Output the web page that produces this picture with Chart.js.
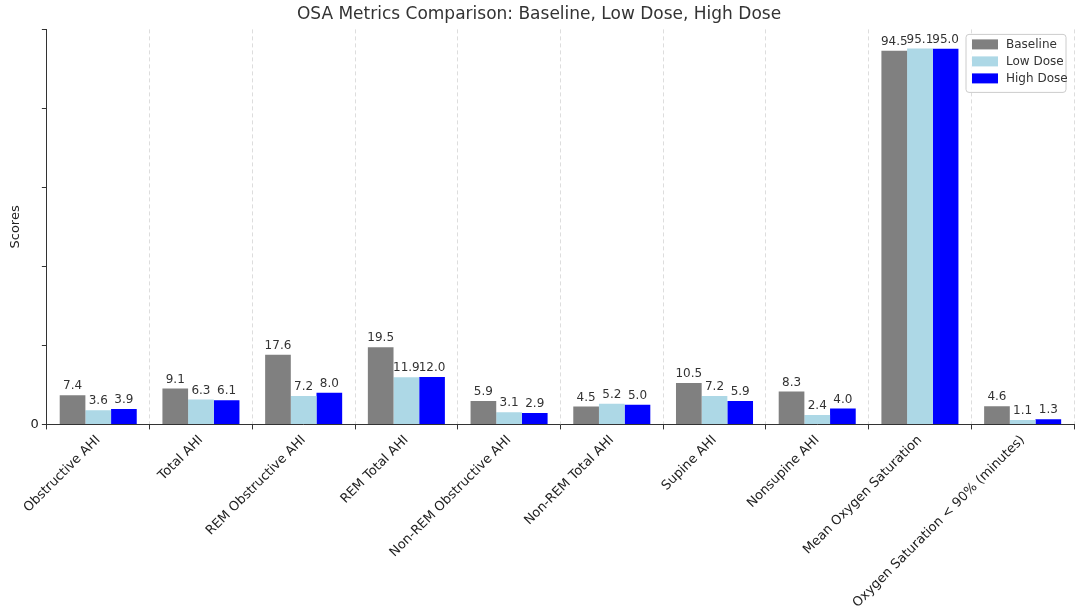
<!DOCTYPE html>
<html>
<head>
<meta charset="utf-8">
<script src="https://cdn.jsdelivr.net/npm/chart.js@4/dist/chart.umd.min.js"></script>
<style>
  body { margin: 0; background: #fff; }
  #wrap { width: 1080px; height: 614px; }
</style>
</head>
<body>
<div id="wrap"><canvas id="c"></canvas></div>
<script>
const categories = ['Obstructive AHI', 'Total AHI', 'REM Obstructive AHI', 'REM Total AHI',
  'Non-REM Obstructive AHI', 'Non-REM Total AHI', 'Supine AHI', 'Nonsupine AHI',
  'Mean Oxygen Saturation', 'Oxygen Saturation < 90% (minutes)'];
const baseline = [7.4, 9.1, 17.6, 19.5, 5.9, 4.5, 10.5, 8.3, 94.5, 4.6];
const lowDose = [3.6, 6.3, 7.2, 11.9, 3.1, 5.2, 7.2, 2.4, 95.1, 1.1];
const highDose = [3.9, 6.1, 8.0, 12.0, 2.9, 5.0, 5.9, 4.0, 95.0, 1.3];
const colors = ['#808080', '#add8e6', '#0000ff'];

// value labels above each bar
const labelPlugin = {
  id: 'labels',
  afterDatasetsDraw(chart) {
    const ctx = chart.ctx;
    ctx.save();
    ctx.font = '12px "DejaVu Sans"';
    ctx.fillStyle = '#333';
    ctx.textAlign = 'center';
    ctx.textBaseline = 'bottom';
    chart.data.datasets.forEach((ds, i) => {
      chart.getDatasetMeta(i).data.forEach((bar, j) => {
        ctx.fillText(ds.data[j].toFixed(1), bar.x, bar.y - 3);
      });
    });
    ctx.restore();
  }
};

// legend box in the top right of the plot
const legendPlugin = {
  id: 'boxLegend',
  afterDraw(chart) {
    const ctx = chart.ctx;
    const a = chart.chartArea;
    const w = 100, h = 58;
    const x = a.right - w - 8, y = a.top + 5;
    ctx.save();
    ctx.fillStyle = 'rgba(255,255,255,0.85)';
    ctx.strokeStyle = '#ccc';
    ctx.lineWidth = 1;
    ctx.beginPath();
    ctx.roundRect(x, y, w, h, 3);
    ctx.fill();
    ctx.stroke();
    ctx.font = '12px "DejaVu Sans"';
    ctx.textBaseline = 'middle';
    chart.data.datasets.forEach((ds, i) => {
      const yy = y + 10 + i * 17;
      ctx.fillStyle = ds.backgroundColor;
      ctx.fillRect(x + 6, yy - 5, 26, 10);
      ctx.fillStyle = '#333';
      ctx.fillText(ds.label, x + 40, yy);
    });
    ctx.restore();
  }
};

new Chart(document.getElementById('c'), {
  type: 'bar',
  data: {
    labels: categories,
    datasets: [
      { label: 'Baseline', data: baseline, backgroundColor: colors[0] },
      { label: 'Low Dose', data: lowDose, backgroundColor: colors[1] },
      { label: 'High Dose', data: highDose, backgroundColor: colors[2] }
    ]
  },
  options: {
    responsive: true,
    maintainAspectRatio: false,
    animation: false,
    categoryPercentage: 0.75,
    barPercentage: 1.0,
    layout: { padding: { left: 4, right: 6, top: 0, bottom: 0 } },
    plugins: {
      legend: { display: false },
      tooltip: { enabled: false },
      title: {
        display: true,
        text: 'OSA Metrics Comparison: Baseline, Low Dose, High Dose',
        color: '#333',
        font: { family: 'DejaVu Sans', size: 17, weight: 'normal' },
        padding: { top: 4, bottom: 5 }
      }
    },
    scales: {
      x: {
        grid: { color: '#ddd', tickColor: '#333', tickLength: 5, borderDash: [4, 3] },
        border: { color: '#333', dash: [4, 3] },
        ticks: {
          color: '#222',
          font: { family: 'DejaVu Sans', size: 13 },
          maxRotation: 45,
          minRotation: 45,
          autoSkip: false
        }
      },
      y: {
        min: 0,
        max: 99.9,
        grid: {
          color: ctx => (ctx.tick && ctx.tick.value % 20 === 0 ? '#ddd' : 'rgba(0,0,0,0)'),
          tickColor: '#333',
          tickLength: 5
        },
        border: { color: '#333', dash: [4, 3] },
        title: { display: true, text: 'Scores', color: '#222', font: { family: 'DejaVu Sans', size: 13 } },
        ticks: {
          stepSize: 20,
          color: '#222',
          font: { family: 'DejaVu Sans', size: 13 },
          callback: v => (v % 20 === 0 ? v : '')
        }
      }
    }
  },
  plugins: [labelPlugin, legendPlugin]
});
</script>
</body>
</html>
